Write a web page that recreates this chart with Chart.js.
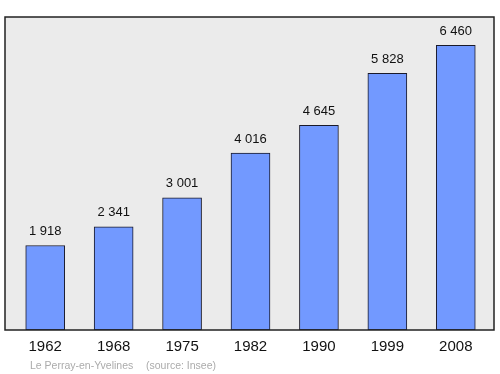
<!DOCTYPE html>
<html>
<head>
<meta charset="utf-8">
<script src="https://cdn.jsdelivr.net/npm/chart.js@4/dist/chart.umd.min.js"></script>
<style>
  html, body { margin: 0; padding: 0; background: #ffffff; }
  #wrap { width: 500px; height: 374px; position: relative; }
</style>
</head>
<body>
<div id="wrap"><canvas id="popChart" width="500" height="374"></canvas></div>
<script>
// Données de population
const years = ['1962', '1968', '1975', '1982', '1990', '1999', '2008'];
const population = [1918, 2341, 3001, 4016, 4645, 5828, 6460];
const communeName = 'Le Perray-en-Yvelines';
const sourceText = '(source: Insee)';

// format "6 460"
function fmt(v) {
    return String(v).replace(/\B(?=(\d{3})+(?!\d))/g, ' ');
}

// fond gris + cadre noir autour de la zone de tracé
const framePlugin = {
    id: 'frame',
    beforeDatasetsDraw(chart) {
        const ctx = chart.ctx;
        const a = chart.chartArea;
        ctx.save();
        ctx.fillStyle = '#ebebeb';
        ctx.fillRect(5, a.top, 489, a.bottom - a.top);
        ctx.restore();
    },
    afterDatasetsDraw(chart) {
        const ctx = chart.ctx;
        const a = chart.chartArea;
        const xs = chart.scales.x;
        const ys = chart.scales.y;
        ctx.save();
        ctx.strokeStyle = '#222222';
        ctx.lineWidth = 1.5;
        ctx.strokeRect(5, a.top, 489, a.bottom - a.top);

        // valeurs au-dessus des barres
        ctx.fillStyle = '#111111';
        ctx.font = '13px "Liberation Sans", Arial, sans-serif';
        ctx.textAlign = 'center';
        ctx.textBaseline = 'middle';
        population.forEach((v, i) => {
            ctx.fillText(fmt(v), xs.getPixelForValue(i), ys.getPixelForValue(v) - 14);
        });

        // années sous l'axe
        ctx.font = '15px "Liberation Sans", Arial, sans-serif';
        years.forEach((y, i) => {
            ctx.fillText(y, xs.getPixelForValue(i), 347);
        });

        // source
        ctx.fillStyle = '#ababab';
        ctx.font = '10.5px "Liberation Sans", Arial, sans-serif';
        ctx.textAlign = 'left';
        ctx.fillText(communeName, 30, 366);
        ctx.fillText(sourceText, 146, 366);
        ctx.restore();
    }
};

new Chart(document.getElementById('popChart').getContext('2d'), {
    type: 'bar',
    data: {
        labels: years,
        datasets: [{
            data: population,
            backgroundColor: '#7299ff',
            borderColor: '#1a1a2a',
            borderWidth: 1,
            borderSkipped: false,
            barThickness: 39
        }]
    },
    options: {
        responsive: false,
        animation: false,
        layout: { padding: { left: 11, right: 10, top: 17, bottom: 44 } },
        plugins: {
            legend: { display: false },
            tooltip: { enabled: false }
        },
        scales: {
            x: { display: false },
            y: { display: false, min: 0, max: 7106 }
        }
    },
    plugins: [framePlugin]
});
</script>
</body>
</html>
